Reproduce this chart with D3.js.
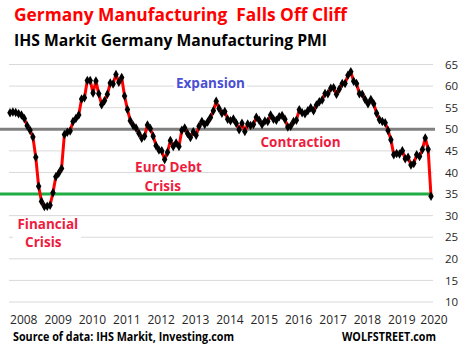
<!DOCTYPE html>
<html><head><meta charset="utf-8">
<script src="https://cdn.jsdelivr.net/npm/d3@7/dist/d3.min.js"></script>
<style>
html,body{margin:0;padding:0;background:#fff;}
svg{display:block;}
text{font-family:"Open Sans","Noto Sans",sans-serif;}
</style></head>
<body>
<svg id="c" width="463" height="354"></svg>
<script>
// ---- DATA ----
const startYear = 2008; // first observation: Jan 2008, monthly
const pmi2008 = [53.8, 54.0, 53.9, 53.6, 53.3, 52.5, 50.8, 49.8, 48.2, 43.5, 36.8, 33.3];
const pmi2009 = [32.1, 32.2, 32.4, 35.3, 39.0, 39.8, 40.9, 48.8, 49.3, 49.6, 51.8, 52.5];
const pmi2010 = [53.3, 57.0, 57.3, 61.3, 61.3, 58.4, 61.2, 58.2, 55.7, 56.6, 58.1, 60.7];
const pmi2011 = [60.5, 62.7, 60.9, 62.0, 57.7, 54.6, 52.0, 50.9, 50.3, 49.1, 47.9, 48.4];
const pmi2012 = [51.0, 50.2, 48.4, 46.2, 45.2, 45.0, 43.0, 44.7, 47.4, 46.0, 46.8, 46.0];
const pmi2013 = [49.8, 50.3, 49.0, 48.1, 49.4, 48.6, 50.7, 51.8, 51.1, 51.7, 52.7, 54.3];
const pmi2014 = [56.5, 54.8, 53.7, 54.1, 52.3, 52.0, 52.4, 51.4, 49.9, 51.4, 49.5, 51.2];
const pmi2015 = [50.9, 51.1, 52.8, 52.1, 51.1, 51.9, 51.8, 53.3, 52.3, 52.1, 52.9, 53.2];
const pmi2016 = [52.3, 50.5, 50.7, 51.8, 52.1, 54.5, 53.8, 53.6, 54.3, 55.0, 54.3, 55.6];
const pmi2017 = [56.4, 56.8, 58.3, 58.2, 59.5, 59.6, 58.1, 59.3, 60.6, 60.6, 62.5, 63.3];
const pmi2018 = [61.1, 60.6, 58.2, 58.1, 56.9, 55.9, 56.9, 55.9, 53.7, 52.2, 51.8, 51.5];
const pmi2019 = [49.7, 47.6, 44.1, 44.4, 44.3, 45.0, 43.2, 43.5, 41.7, 42.1, 44.1, 43.7];
const pmi2020 = [45.3, 48.0, 45.4, 34.5];
const yearLabels = ["2008","2009","2010","2011","2012","2013","2014","2015","2016","2017","2018","2019","2020"];
const yTicks = [10,15,20,25,30,35,40,45,50,55,60,65];
const expansionLine = 50;
const crisisLine = 35;

const values = [].concat(pmi2008,pmi2009,pmi2010,pmi2011,pmi2012,pmi2013,pmi2014,pmi2015,pmi2016,pmi2017,pmi2018,pmi2019,pmi2020);
const data = values.map((v,i)=>({i, v}));

// ---- SCALES ----
const svg = d3.select("#c");
const x = d3.scaleLinear().domain([0, values.length-1]).range([10, 431]);
const y = d3.scaleLinear().domain([10, 65]).range([302, 64.5]);

// gridlines
svg.append("g").selectAll("line").data(yTicks).join("line")
  .attr("x1", 9).attr("x2", 433)
  .attr("y1", d=>y(d)).attr("y2", d=>y(d))
  .attr("stroke", "#d9d9d9").attr("stroke-width", 1);

// y labels
svg.append("g").selectAll("text").data(yTicks).join("text")
  .attr("x", 445).attr("y", d=>y(d)).attr("dy","0.36em")
  .attr("font-size", 11.5).attr("fill", "#262626")
  .text(d=>d);

// x labels
svg.append("g").selectAll("text").data(yearLabels).join("text")
  .attr("x", (d,k)=>Math.min(x(k*12+4.8), 434))
  .attr("y", 324)
  .attr("text-anchor","middle")
  .attr("font-size", 12).attr("fill", "#262626")
  .text(d=>d);

// reference lines
svg.append("line").attr("x1",0).attr("x2",435)
  .attr("y1",y(expansionLine)).attr("y2",y(expansionLine))
  .attr("stroke","#808080").attr("stroke-width",3);
svg.append("line").attr("x1",0).attr("x2",432)
  .attr("y1",y(crisisLine)).attr("y2",y(crisisLine))
  .attr("stroke","#1fad45").attr("stroke-width",3);

// annotation boxes & labels
function label(txt, cx, by, color, size){
  return svg.append("text").attr("x",cx).attr("y",by)
    .attr("text-anchor","middle").attr("font-weight",700)
    .attr("font-size",size).attr("fill",color).text(txt);
}
svg.append("rect").attr("x",174).attr("y",77).attr("width",73).attr("height",16).attr("fill","#fff");
svg.append("rect").attr("x",13).attr("y",217).attr("width",68).attr("height",34).attr("fill","#fff");

label("Expansion", 210.5, 88, "#4a4fd3", 13.5);
label("Contraction", 300.5, 147, "#ee1c3e", 13.5);
label("Euro Debt", 168.5, 172, "#ee1c3e", 13.5);
label("Crisis", 162.7, 191, "#ee1c3e", 13.5);
label("Financial", 47.8, 229, "#ee1c3e", 13.5);
label("Crisis", 43.3, 247, "#ee1c3e", 13.5);

// data line
const line = d3.line().x(d=>x(d.i)).y(d=>y(d.v));
svg.append("path").datum(data).attr("d", line)
  .attr("fill","none").attr("stroke","#ff0000").attr("stroke-width",3)
  .attr("stroke-linejoin","round");

// markers
svg.append("g").selectAll("path").data(data).join("path")
  .attr("transform", d=>`translate(${x(d.i)},${y(d.v)})`)
  .attr("d", d3.symbol().type(d3.symbolDiamond).size(26))
  .attr("fill","#000");

// titles
svg.append("text").attr("x",14).attr("y",21)
  .style("white-space","pre")
  .attr("font-size",18.5).attr("font-weight",700).attr("fill","#ff0000")
  .attr("textLength",333).attr("lengthAdjust","spacingAndGlyphs")
  .text("Germany Manufacturing  Falls Off Cliff");
svg.append("text").attr("x",14).attr("y",45.5)
  .attr("font-size",16.5).attr("font-weight",700).attr("fill","#000")
  .attr("textLength",313).attr("lengthAdjust","spacingAndGlyphs")
  .text("IHS Markit Germany Manufacturing PMI");

// footer
svg.append("text").attr("x",13).attr("y",341)
  .attr("font-size",12).attr("font-weight",700).attr("fill","#000")
  .attr("textLength",221).attr("lengthAdjust","spacingAndGlyphs")
  .text("Source of data: IHS Markit, Investing.com");
svg.append("text").attr("x",342).attr("y",341)
  .attr("font-size",12).attr("font-weight",700).attr("fill","#000")
  .attr("textLength",94).attr("lengthAdjust","spacingAndGlyphs")
  .text("WOLFSTREET.com");
</script>
</body></html>
